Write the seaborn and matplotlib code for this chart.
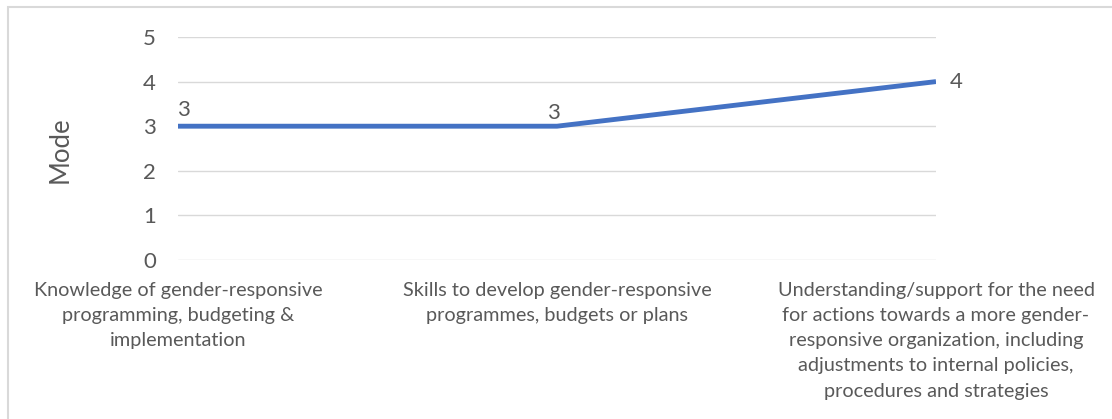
import matplotlib
matplotlib.use("Agg")
import matplotlib.pyplot as plt
import seaborn as sns
import pandas as pd
from matplotlib.patches import Rectangle

categories = [
    "Knowledge of gender-responsive\nprogramming, budgeting &\nimplementation",
    "Skills to develop gender-responsive\nprogrammes, budgets or plans",
    "Understanding/support for the need\nfor actions towards a more gender-\nresponsive organization, including\nadjustments to internal policies,\nprocedures and strategies",
]
mode_values = [3, 3, 4]
y_ticks = [0, 1, 2, 3, 4, 5]

sns.set_theme(style="white")
plt.rcParams["font.family"] = ["Lato", "DejaVu Sans"]

TEXT = "#595959"
LINE = "#4472C4"
GRID = "#D9D9D9"

df = pd.DataFrame({"category": categories, "mode": mode_values})

fig = plt.figure(figsize=(11.12, 4.19), dpi=100)
ax = fig.add_axes([178 / 1112, 1 - 260 / 419, (936 - 178) / 1112, (260 - 37) / 419])

sns.lineplot(data=df, x="category", y="mode", sort=False, color=LINE,
             linewidth=3.5, ax=ax, solid_capstyle="butt", zorder=3)

ax.set_xlim(0, len(categories) - 1)
ax.set_ylim(0, 5)
ax.set_yticks(y_ticks)
ax.set_yticklabels([str(t) for t in y_ticks])
ax.yaxis.grid(True, color=GRID, linewidth=1.0)
ax.xaxis.grid(False)
ax.set_axisbelow(True)
for s in ax.spines.values():
    s.set_visible(False)

ax.tick_params(axis="y", length=0, pad=16, labelsize=16, labelcolor=TEXT)
ax.tick_params(axis="x", length=0, pad=15.5, labelsize=14.3, labelcolor=TEXT)
for lbl in ax.get_xticklabels():
    lbl.set_horizontalalignment("center")
    lbl.set_multialignment("center")
    lbl.set_linespacing(1.59)

ax.set_xlabel("")
ax.set_ylabel("")
fig.text(60 / 1112, 1 - 150 / 419, "Mode", rotation=90, ha="center", va="center",
         fontsize=18.5, color=TEXT)

# value labels
offsets = [(5, 16, "center"), (-4, 13, "center"), (14, 0, "left")]
for i, (v, (dx, dy, ha)) in enumerate(zip(mode_values, offsets)):
    ax.annotate(str(v), (i, v), xytext=(dx * 0.72, dy * 0.72), textcoords="offset points",
                ha=ha, va="center", fontsize=16, color=TEXT, annotation_clip=False)

# chart frame (extends past the right and bottom edges)
fig.patches.append(Rectangle((7.5 / 1112, -0.2), 1.2, 1 - 7.5 / 419 + 0.2,
                             transform=fig.transFigure, fill=False,
                             edgecolor=GRID, linewidth=1.5, zorder=0))

fig.savefig("out.png", dpi=100, facecolor="white")
